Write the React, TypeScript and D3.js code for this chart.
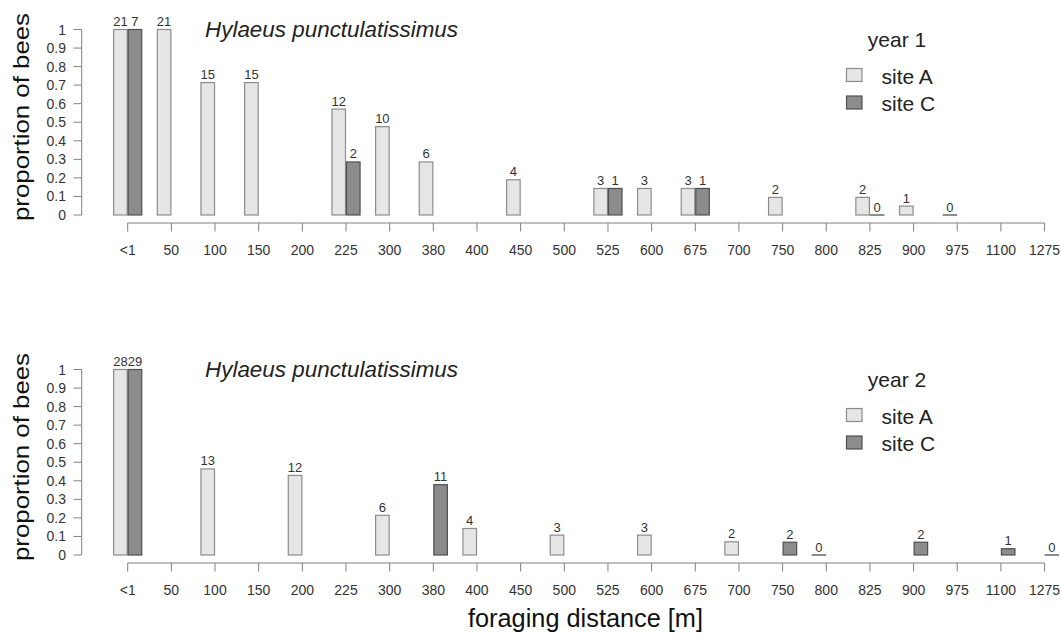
import React from "react";
import * as d3 from "d3";

const categories = ["<1","50","100","150","200","225","300","380","400","450","500","525","600","675","700","750","800","825","900","975","1100","1275"];
const yTicks = [0,0.1,0.2,0.3,0.4,0.5,0.6,0.7,0.8,0.9,1];
const yTickLabels = ["0","0.1","0.2","0.3","0.4","0.5","0.6","0.7","0.8","0.9","1"];

const y1SiteA = [1.0,1.0,0.714,0.714,null,0.571,0.476,0.286,null,0.19,null,0.143,0.143,0.143,null,0.095,null,0.095,0.048,0,null,null];
const y1SiteACounts = [21,21,15,15,null,12,10,6,null,4,null,3,3,3,null,2,null,2,1,0,null,null];
const y1SiteC = [1.0,null,null,null,null,0.286,null,null,null,null,null,0.143,null,0.143,null,null,null,0,null,null,null,null];
const y1SiteCCounts = [7,null,null,null,null,2,null,null,null,null,null,1,null,1,null,null,null,0,null,null,null,null];

const y2SiteA = [1.0,null,0.464,null,0.429,null,0.214,null,0.143,null,0.107,null,0.107,null,0.071,null,0,null,null,null,null,null];
const y2SiteACounts = [28,null,13,null,12,null,6,null,4,null,3,null,3,null,2,null,0,null,null,null,null,null];
const y2SiteC = [1.0,null,null,null,null,null,null,0.379,null,null,null,null,null,null,null,0.069,null,null,0.069,null,0.034,0];
const y2SiteCCounts = [29,null,null,null,null,null,null,11,null,null,null,null,null,null,null,2,null,null,2,null,1,0];

const title = "Hylaeus punctulatissimus";
const xTitle = "foraging distance [m]";
const yTitle = "proportion of bees";
const seriesNames = ["site A", "site C"];

const FONT = "'Liberation Sans', Arial, Helvetica, sans-serif";
const LIGHT = "#e6e6e6";
const LIGHT_STROKE = "#8c8c8c";
const DARK = "#8c8c8c";
const DARK_STROKE = "#505050";
const AXIS = "#808080";
const TEXT = "#333";

const STEP = 43.66;
const FIRST = 127.7;
const x = d3.scaleBand<string>()
  .domain(categories)
  .range([FIRST - STEP / 2, FIRST - STEP / 2 + STEP * categories.length])
  .padding(0);
const W = STEP / 3;
const cx = (c: string) => (x(c) as number) + x.bandwidth() / 2;

const y = d3.scaleLinear().domain([0, 1]).range([215, 29.5]);

function Bars({ vals, counts, side }: { vals: (number | null)[]; counts: (number | null)[]; side: number }) {
  const fill = side === 0 ? LIGHT : DARK;
  const stroke = side === 0 ? LIGHT_STROKE : DARK_STROKE;
  return (
    <g>
      {categories.map((c, i) => {
        const v = vals[i];
        if (v === null || v === undefined) return null;
        const x0 = side === 0 ? cx(c) - W : cx(c);
        const top = y(v);
        return (
          <g key={c}>
            {v > 0 ? (
              <rect x={x0 + 0.5} y={top} width={W - 1} height={y(0) - top} fill={fill} stroke={stroke} strokeWidth={1.2} />
            ) : (
              <line x1={x0} x2={x0 + W} y1={y(0)} y2={y(0)} stroke="#444" strokeWidth={1.2} />
            )}
            <text x={x0 + W / 2} y={top - 3.5} textAnchor="middle" fontSize={13} fill={TEXT} fontFamily={FONT}>
              {counts[i]}
            </text>
          </g>
        );
      })}
    </g>
  );
}

function Panel({ dy, year, a, ac, c, cc }: { dy: number; year: string; a: (number | null)[]; ac: (number | null)[]; c: (number | null)[]; cc: (number | null)[] }) {
  const axisY = y(0) + 8;
  return (
    <g transform={`translate(0,${dy})`}>
      {/* y axis */}
      <line x1={81.7} x2={81.7} y1={y(0)} y2={y(1)} stroke={AXIS} strokeWidth={1} />
      {yTicks.map((t, i) => (
        <g key={t}>
          <line x1={73.5} x2={81.7} y1={y(t)} y2={y(t)} stroke={AXIS} strokeWidth={1} />
          <text x={66} y={y(t) + 5} textAnchor="end" fontSize={14} fill={TEXT} fontFamily={FONT}>
            {yTickLabels[i]}
          </text>
        </g>
      ))}
      <text
        transform={`translate(29,117) rotate(-90)`}
        textAnchor="middle"
        fontSize={22}
        fill="#111"
        fontFamily={FONT}
        textLength={208}
        lengthAdjust="spacingAndGlyphs"
      >
        {yTitle}
      </text>
      {/* x axis */}
      <line x1={cx(categories[0])} x2={cx(categories[categories.length - 1])} y1={axisY} y2={axisY} stroke={AXIS} strokeWidth={1} />
      {categories.map((cat) => (
        <g key={cat}>
          <line x1={cx(cat)} x2={cx(cat)} y1={axisY} y2={axisY + 8.5} stroke={AXIS} strokeWidth={1} />
          <text x={cx(cat)} y={axisY + 31.5} textAnchor="middle" fontSize={14} fill={TEXT} fontFamily={FONT}>
            {cat}
          </text>
        </g>
      ))}
      <Bars vals={a} counts={ac} side={0} />
      <Bars vals={c} counts={cc} side={1} />
      {/* title */}
      <text x={205} y={37} fontSize={22.5} fontStyle="italic" fill="#222" fontFamily={FONT} textLength={253} lengthAdjust="spacingAndGlyphs">
        {title}
      </text>
      {/* legend */}
      <text x={897} y={47} textAnchor="middle" fontSize={21} fill="#222" fontFamily={FONT}>
        {year}
      </text>
      <rect x={846.5} y={68.5} width={15.5} height={13} fill={LIGHT} stroke={LIGHT_STROKE} strokeWidth={1.2} />
      <rect x={846.5} y={96} width={15.5} height={13} fill={DARK} stroke={DARK_STROKE} strokeWidth={1.2} />
      <text x={881.5} y={84} fontSize={21} fill="#222" fontFamily={FONT}>{seriesNames[0]}</text>
      <text x={881.5} y={110.5} fontSize={21} fill="#222" fontFamily={FONT}>{seriesNames[1]}</text>
    </g>
  );
}

export default function App() {
  return (
    <svg width={1061} height={635} style={{ position: "absolute", left: 0, top: 0, background: "#fff" }}>
      <rect width={1061} height={635} fill="#fff" />
      <Panel dy={0} year="year 1" a={y1SiteA} ac={y1SiteACounts} c={y1SiteC} cc={y1SiteCCounts} />
      <Panel dy={340} year="year 2" a={y2SiteA} ac={y2SiteACounts} c={y2SiteC} cc={y2SiteCCounts} />
      <text x={585.5} y={627} textAnchor="middle" fontSize={25} fill="#111" fontFamily={FONT} textLength={235} lengthAdjust="spacingAndGlyphs">
        {xTitle}
      </text>
    </svg>
  );
}
